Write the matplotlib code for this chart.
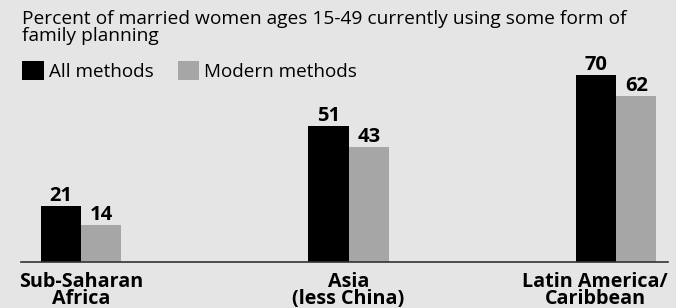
import matplotlib
matplotlib.use("Agg")
import matplotlib.pyplot as plt
from matplotlib.patches import Patch
from matplotlib.transforms import ScaledTranslation
import numpy as np

categories = ["Sub-Saharan\nAfrica", "Asia\n(less China)", "Latin America/\nCaribbean"]
all_methods = [21, 51, 70]
modern_methods = [14, 43, 62]
title = "Percent of married women ages 15-49 currently using some form of\nfamily planning"

BG = "#e5e5e5"
BLACK = "#000000"
GRAY = "#a6a6a6"
FONT = "Open Sans"

W, H = 676, 308
fig = plt.figure(figsize=(W / 100, H / 100), dpi=100, facecolor=BG)
ax = fig.add_axes([21 / W, 46 / H, 647 / W, 214 / H], facecolor=BG)

x = np.arange(len(categories))
bw = 0.151
b1 = ax.bar(x - bw / 2, all_methods, bw, color=BLACK, label="All methods")
b2 = ax.bar(x + bw / 2, modern_methods, bw, color=GRAY, label="Modern methods")

for bars, vals in ((b1, all_methods), (b2, modern_methods)):
    for r, v in zip(bars, vals):
        ax.annotate(str(v), (r.get_x() + r.get_width() / 2, r.get_height()),
                    xytext=(0, 0), textcoords="offset points", ha="center", va="bottom",
                    fontsize=14.5, fontweight="bold", family=FONT)

ax.set_xlim(-0.224, 2.194)
ax.set_ylim(0, 214 / 2.67)
for s in ("top", "left", "right"):
    ax.spines[s].set_visible(False)
ax.spines["bottom"].set_color("#333333")
ax.spines["bottom"].set_linewidth(1.2)
ax.set_yticks([])
ax.set_xticks(x)
labels = ax.set_xticklabels(categories, fontsize=14.2, fontweight="bold", family=FONT,
                            linespacing=0.82)
ax.tick_params(axis="x", length=0, pad=7)
# last label sits left of its group centre in the reference
labels[-1].set_transform(labels[-1].get_transform() +
                         ScaledTranslation(-21 / 100, 0, fig.dpi_scale_trans))

fig.text(22 / W, 1 - 10 / H, title, ha="left", va="top", fontsize=13.8, family=FONT,
         linespacing=0.95)

handles = [Patch(facecolor=BLACK), Patch(facecolor=GRAY)]
fig.legend(handles, ["All methods", "Modern methods"], loc="upper left",
           bbox_to_anchor=(20 / W, 1 - 59 / H), ncol=2, frameon=False,
           prop={"family": FONT, "size": 13.6}, handlelength=1.15, handleheight=1.2,
           handletextpad=0.27, columnspacing=1.28, borderpad=0.1, borderaxespad=0)

fig.savefig("out.png", dpi=100, facecolor=BG)
